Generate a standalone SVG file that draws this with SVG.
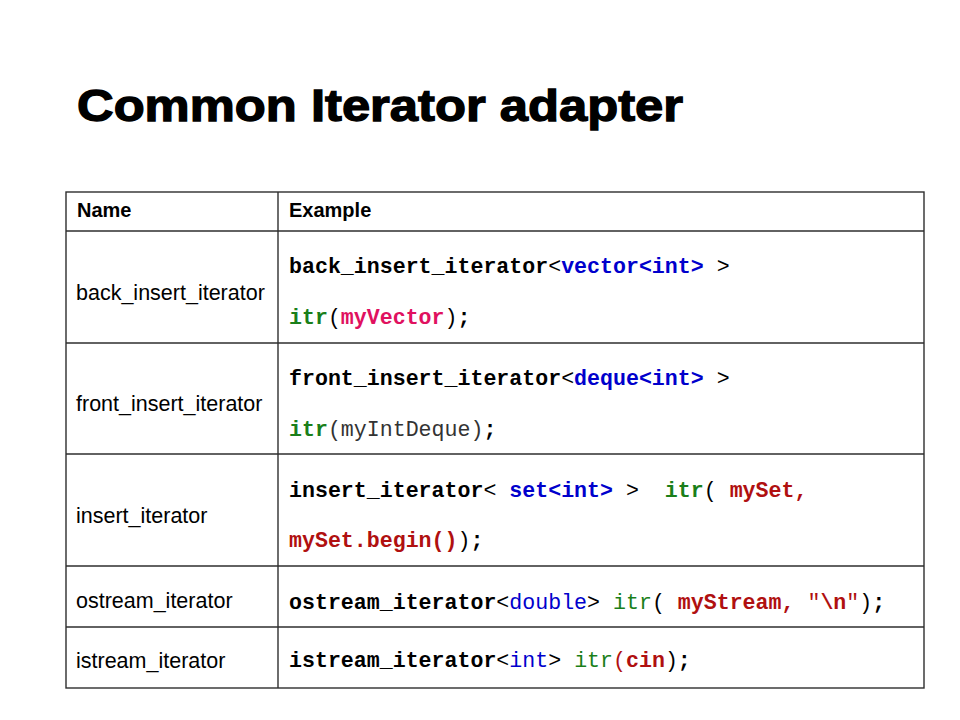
<svg xmlns="http://www.w3.org/2000/svg" width="960" height="720" viewBox="0 0 960 720">
<style>
.title{font-family:"Liberation Sans",Arial,sans-serif;font-weight:bold;font-size:45px;fill:#000;stroke:#000;stroke-width:1.3px}
.hd{font-family:"Liberation Sans",Arial,sans-serif;font-weight:bold;font-size:20px;fill:#000}
.nm{font-family:"Liberation Sans",Arial,sans-serif;font-size:21.5px;fill:#000}
.code{font-family:"Liberation Mono","Courier New",monospace;font-size:21.6px;fill:#000;white-space:pre}
.b{font-weight:bold}
.bl{fill:#0000CC}
.gr{fill:#1A7F1A}
.mg{fill:#E0115F}
.rd{fill:#B01010}
.gy{fill:#333}
.grid{stroke:#2e2e2e;stroke-width:1.4;fill:none}
</style>
<rect width="960" height="720" fill="#fff"/>
<text class="title" x="77" y="121" textLength="606" lengthAdjust="spacingAndGlyphs">Common Iterator adapter</text>
<g id="table">
<g class="grid">
<rect x="66" y="192" width="858" height="496"/>
<line x1="278" y1="192" x2="278" y2="688"/>
<line x1="66" y1="231" x2="924" y2="231"/>
<line x1="66" y1="343" x2="924" y2="343"/>
<line x1="66" y1="454" x2="924" y2="454"/>
<line x1="66" y1="566" x2="924" y2="566"/>
<line x1="66" y1="627" x2="924" y2="627"/>
</g>
<g id="header">
<text class="hd" x="77" y="217">Name</text>
<text class="hd" x="289" y="217">Example</text>
</g>
<g id="row-back">
<text class="nm" x="76" y="300">back_insert_iterator</text>
<text class="code" x="289" y="273" xml:space="preserve"><tspan class="b">back_insert_iterator</tspan>&lt;<tspan class="b bl">vector&lt;int&gt;</tspan> &gt;</text>
<text class="code" x="289" y="324" xml:space="preserve"><tspan class="b gr">itr</tspan>(<tspan class="b mg">myVector</tspan>)<tspan class="b">;</tspan></text>
</g>
<g id="row-front">
<text class="nm" x="76" y="411">front_insert_iterator</text>
<text class="code" x="289" y="385" xml:space="preserve"><tspan class="b">front_insert_iterator</tspan>&lt;<tspan class="b bl">deque&lt;int&gt;</tspan> &gt;</text>
<text class="code" x="289" y="436" xml:space="preserve"><tspan class="b gr">itr</tspan><tspan class="gy">(myIntDeque)</tspan><tspan class="b">;</tspan></text>
</g>
<g id="row-insert">
<text class="nm" x="76" y="523">insert_iterator</text>
<text class="code" x="289" y="497" xml:space="preserve"><tspan class="b">insert_iterator</tspan>&lt; <tspan class="b bl">set&lt;int&gt;</tspan> &gt;  <tspan class="b gr">itr</tspan>( <tspan class="b rd">mySet,</tspan></text>
<text class="code" x="289" y="547" xml:space="preserve"><tspan class="b rd">mySet.begin()</tspan>)<tspan class="b">;</tspan></text>
</g>
<g id="row-ostream">
<text class="nm" x="76" y="608">ostream_iterator</text>
<text class="code" x="289" y="609" xml:space="preserve"><tspan class="b">ostream_iterator</tspan>&lt;<tspan class="bl">double</tspan>&gt; <tspan class="gr">itr</tspan>( <tspan class="b rd">myStream,</tspan> <tspan class="rd">"</tspan><tspan class="b rd">\n</tspan><tspan class="rd">"</tspan>)<tspan class="b">;</tspan></text>
</g>
<g id="row-istream">
<text class="nm" x="76" y="668">istream_iterator</text>
<text class="code" x="289" y="667" xml:space="preserve"><tspan class="b">istream_iterator</tspan>&lt;<tspan class="bl">int</tspan>&gt; <tspan class="gr">itr</tspan><tspan class="rd">(</tspan><tspan class="b rd">cin</tspan>)<tspan class="b">;</tspan></text>
</g>
</g>
</svg>
